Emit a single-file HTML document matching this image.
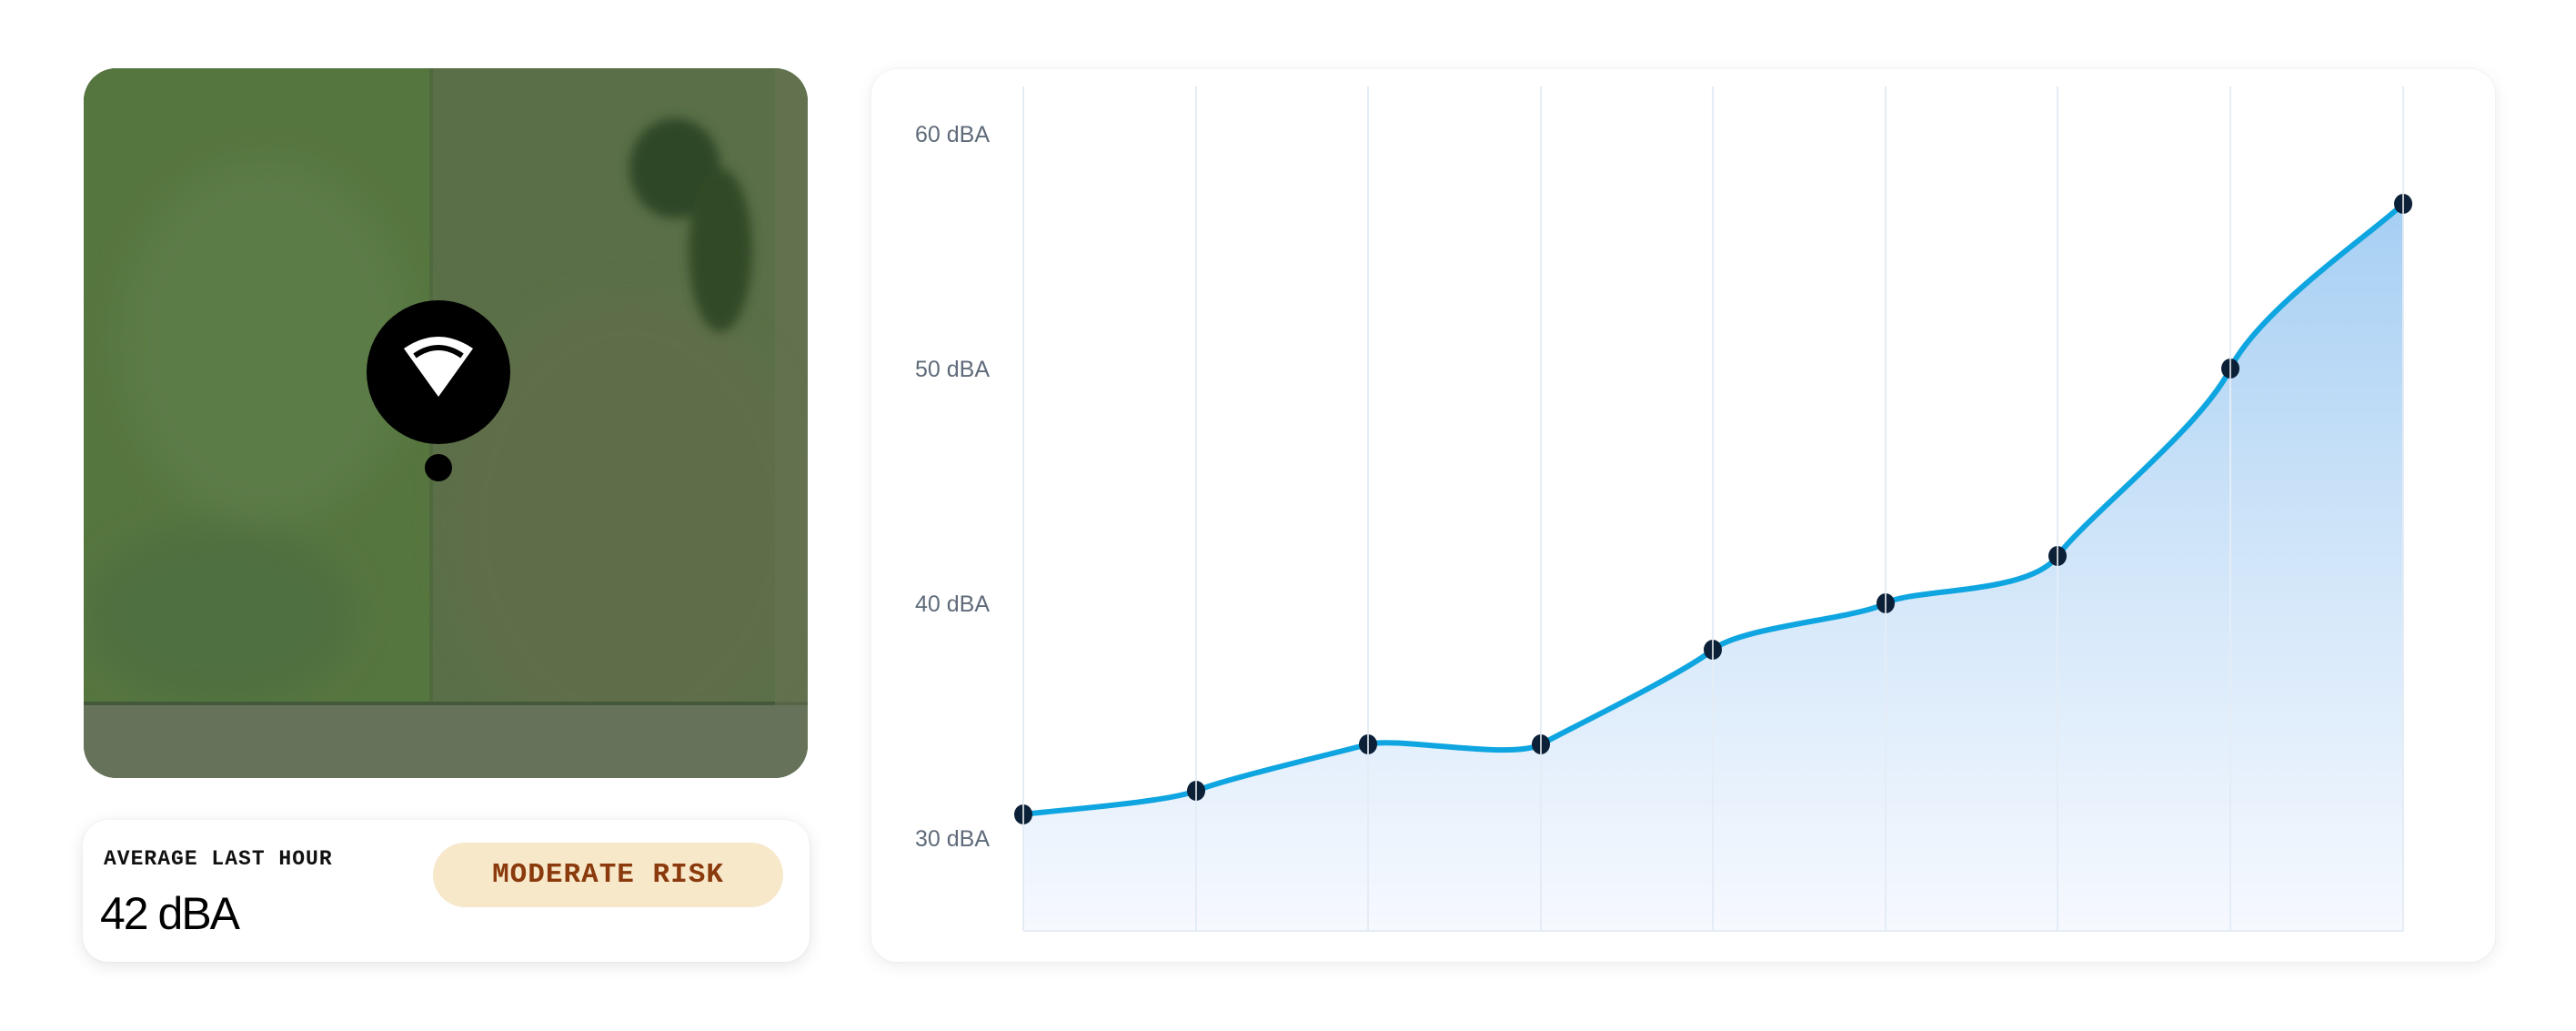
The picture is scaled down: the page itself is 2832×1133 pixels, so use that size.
<!DOCTYPE html>
<html><head><meta charset="utf-8"><style>
html,body{margin:0;padding:0;background:#fff;width:2832px;height:1133px;overflow:hidden;position:relative;font-family:"Liberation Sans",sans-serif}
.map{position:absolute;left:92px;top:75px;width:796px;height:780px;border-radius:36px;overflow:hidden;background:#4f6e3e}
.info{position:absolute;left:91px;top:901px;width:799px;height:156px;border-radius:28px;background:#fff;box-shadow:0 4px 18px rgba(0,0,0,0.10),0 0 3px rgba(0,0,0,0.05)}
.chart{position:absolute;left:958px;top:76px;width:1785px;height:981px;border-radius:28px;background:#fff;box-shadow:0 4px 18px rgba(0,0,0,0.08),0 0 3px rgba(0,0,0,0.05)}
.lbl{position:absolute;left:23px;top:30px;font-family:"Liberation Mono",monospace;font-weight:bold;font-size:23px;letter-spacing:1px;color:#111}
.big{position:absolute;left:19px;top:74px;font-size:50px;color:#000;letter-spacing:-2px}
.pill{position:absolute;left:385px;top:25px;width:385px;height:71px;border-radius:36px;background:#f7e8c9;color:#8a3a0c;font-family:"Liberation Mono",monospace;font-weight:bold;font-size:31px;text-align:center;line-height:71px;letter-spacing:1px}
</style></head><body>
<div class="map">
<svg width="796" height="780" viewBox="0 0 796 780">
<defs>
<filter id="b"><feGaussianBlur stdDeviation="18"/></filter>
<filter id="b2"><feGaussianBlur stdDeviation="6"/></filter>
</defs>
<rect width="796" height="780" fill="#5a6f48"/>
<rect x="0" y="0" width="380" height="700" fill="#56763f"/>
<g filter="url(#b)">
<ellipse cx="200" cy="300" rx="160" ry="200" fill="#5b7b46"/>
<ellipse cx="600" cy="500" rx="200" ry="250" fill="#5f6e4a"/>
<ellipse cx="150" cy="600" rx="150" ry="100" fill="#507040"/>
</g>
<g filter="url(#b2)">
<ellipse cx="650" cy="110" rx="50" ry="55" fill="#2d4626"/>
<ellipse cx="700" cy="200" rx="35" ry="90" fill="#304a28"/>
</g>
<rect x="380" y="0" width="4" height="700" fill="#4a6838" opacity="0.6"/>
<rect x="0" y="698" width="796" height="82" fill="#66735a"/>
<rect x="0" y="696" width="796" height="4" fill="#44583a"/>
<rect x="760" y="0" width="36" height="700" fill="#6a7453" opacity="0.5"/>
<ellipse cx="390" cy="334" rx="79" ry="79" fill="#000"/>
<circle cx="390" cy="439" r="15" fill="#000"/>
<path d="M352,308 Q390,282 428,308 L390,361 Z" fill="#fff"/>
<path d="M364,316 Q390,298 416,316" fill="none" stroke="#000" stroke-width="6"/>
</svg>
</div>
<div class="info">
<div class="lbl">AVERAGE LAST HOUR</div>
<div class="big">42 dBA</div>
<div class="pill">MODERATE RISK</div>
</div>
<div class="chart"></div>
<svg style="position:absolute;left:0;top:0" width="2832" height="1133">
<defs>
<linearGradient id="g" gradientUnits="userSpaceOnUse" x1="0" y1="224" x2="0" y2="1023">
<stop offset="0" stop-color="#a6cff3"/>
<stop offset="0.5" stop-color="#d2e6f9"/>
<stop offset="1" stop-color="#f6f9fe"/>
</linearGradient>
</defs>
<path d="M1125,895 C1156.6,890.7 1283.4,881.8 1315,869 C1346.6,856.2 1472.4,826.5 1504,818 C1535.6,809.5 1662.4,835.3 1694,818 C1725.6,800.7 1851.4,739.8 1883,714 C1914.6,688.2 2041.4,680.2 2073,663 C2104.6,645.8 2230.4,654 2262,611 C2293.6,568 2420.4,469.5 2452,405 C2483.6,340.5 2610.4,254.2 2642,224 L2642,1023 L1125,1023 Z" fill="url(#g)"/>
<g stroke="#e4ecf6" stroke-width="2">
<line x1="1125" y1="95" x2="1125" y2="1023"/><line x1="1315" y1="95" x2="1315" y2="1023"/><line x1="1504" y1="95" x2="1504" y2="1023"/><line x1="1694" y1="95" x2="1694" y2="1023"/><line x1="1883" y1="95" x2="1883" y2="1023"/><line x1="2073" y1="95" x2="2073" y2="1023"/><line x1="2262" y1="95" x2="2262" y2="1023"/><line x1="2452" y1="95" x2="2452" y2="1023"/><line x1="2642" y1="95" x2="2642" y2="1023"/>
<line x1="1125" y1="1023" x2="2642" y2="1023"/>
</g>
<path d="M1125,895 C1156.6,890.7 1283.4,881.8 1315,869 C1346.6,856.2 1472.4,826.5 1504,818 C1535.6,809.5 1662.4,835.3 1694,818 C1725.6,800.7 1851.4,739.8 1883,714 C1914.6,688.2 2041.4,680.2 2073,663 C2104.6,645.8 2230.4,654 2262,611 C2293.6,568 2420.4,469.5 2452,405 C2483.6,340.5 2610.4,254.2 2642,224" fill="none" stroke="#0ea5e0" stroke-width="6" stroke-linecap="round"/>
<g fill="#0c2038">
<ellipse cx="1125" cy="895" rx="10" ry="11"/><ellipse cx="1315" cy="869" rx="10" ry="11"/><ellipse cx="1504" cy="818" rx="10" ry="11"/><ellipse cx="1694" cy="818" rx="10" ry="11"/><ellipse cx="1883" cy="714" rx="10" ry="11"/><ellipse cx="2073" cy="663" rx="10" ry="11"/><ellipse cx="2262" cy="611" rx="10" ry="11"/><ellipse cx="2452" cy="405" rx="10" ry="11"/><ellipse cx="2642" cy="224" rx="10" ry="11"/>
</g>
<g stroke="#fff" stroke-width="1.5">
<line x1="1125" y1="884" x2="1125" y2="906"/><line x1="1315" y1="858" x2="1315" y2="880"/><line x1="1504" y1="807" x2="1504" y2="829"/><line x1="1694" y1="807" x2="1694" y2="829"/><line x1="1883" y1="703" x2="1883" y2="725"/><line x1="2073" y1="652" x2="2073" y2="674"/><line x1="2262" y1="600" x2="2262" y2="622"/><line x1="2452" y1="394" x2="2452" y2="416"/><line x1="2642" y1="213" x2="2642" y2="235"/>
</g>
<g font-family="Liberation Sans, sans-serif" font-size="25" fill="#5f6b7a">
<text x="1006" y="156">60 dBA</text><text x="1006" y="414">50 dBA</text><text x="1006" y="672">40 dBA</text><text x="1006" y="930">30 dBA</text>
</g>
</svg>
</body></html>
